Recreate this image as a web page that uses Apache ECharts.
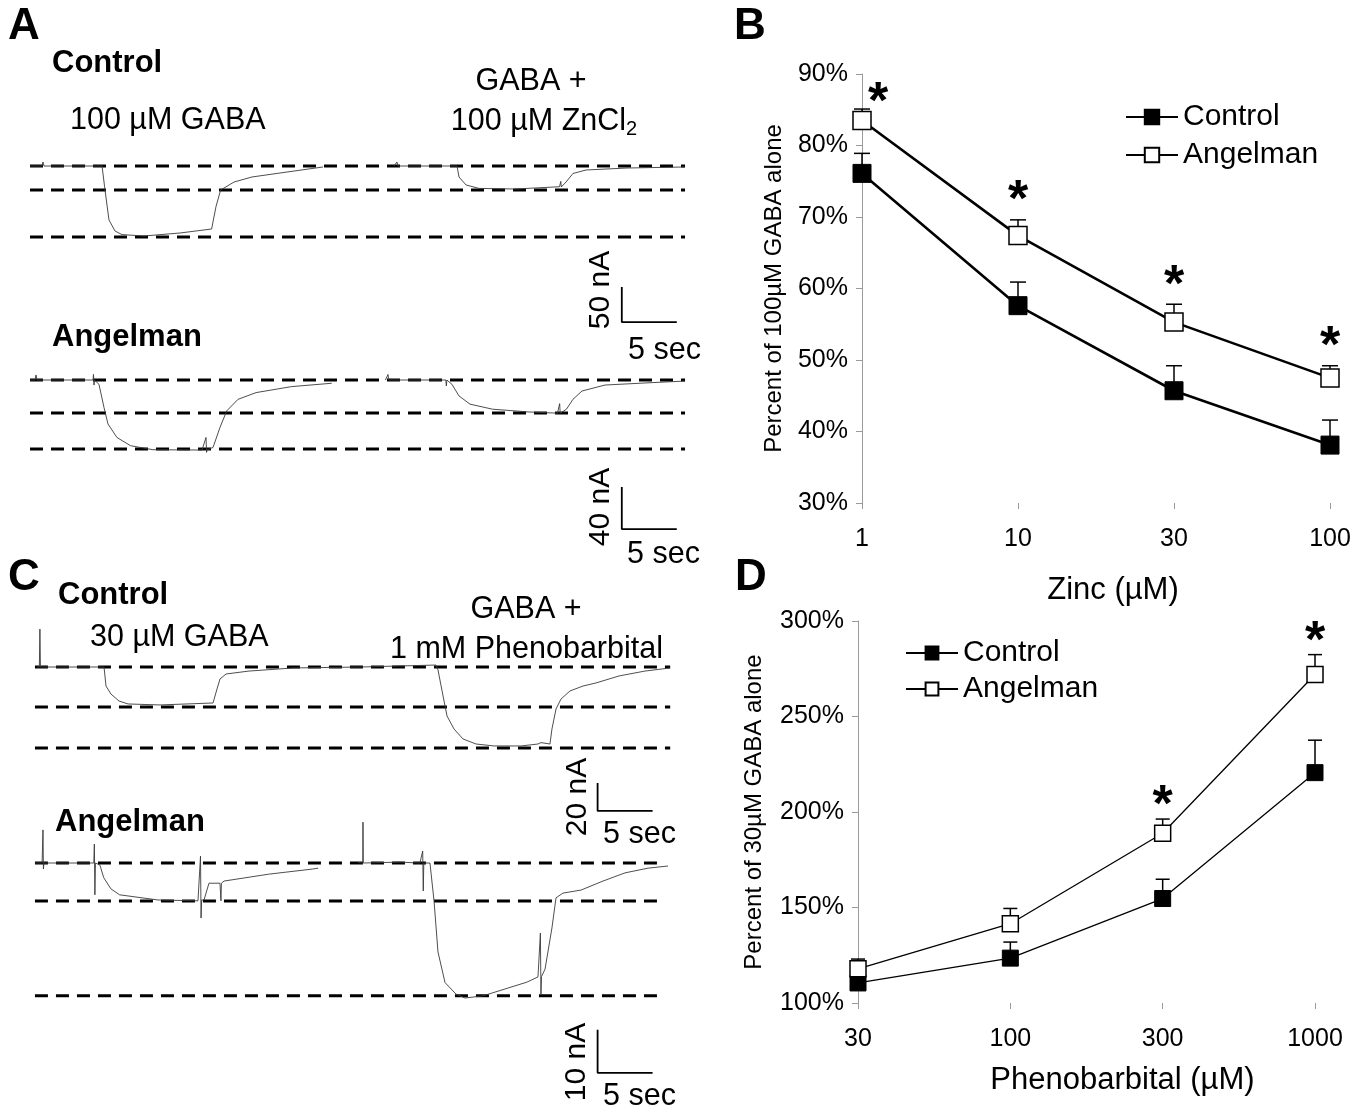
<!DOCTYPE html>
<html><head><meta charset="utf-8">
<script src="https://cdn.jsdelivr.net/npm/echarts@6/dist/echarts.min.js"></script>
<style>html,body{margin:0;padding:0;background:#fff}#c{width:1368px;height:1115px}</style>
</head><body><div id="c"></div>
<script>
// ---------------- DATA ----------------
// Panel B: Zinc inhibition (% of 100 uM GABA alone)
const zincCats = ['1', '10', '30', '100'];
const zincControl = [76.1, 57.6, 45.7, 38.1];
const zincControlSem = [2.8, 3.3, 3.5, 3.5];
const zincAngelman = [83.5, 67.4, 55.3, 47.5];
const zincAngelmanSem = [1.6, 2.2, 2.5, 1.7];
const zincSig = [true, true, true, true];
const zincTicks = [30, 90, 10];

// Panel D: Phenobarbital potentiation (% of 30 uM GABA alone)
const phenoCats = ['30', '100', '300', '1000'];
const phenoControl = [110.5, 123.5, 154.7, 220.6];
const phenoControlSem = [2.0, 8.4, 10.1, 17.0];
const phenoAngelman = [117.9, 141.5, 188.9, 272.0];
const phenoAngelmanSem = [5.1, 8.0, 7.4, 10.4];
const phenoSig = [false, false, true, true];
const phenoTicks = [100, 300, 50];

// Panel A traces: [time (s), current (nA)]
const aCtrlGaba = [[0,0],[1.09,0],[1.18,5.7],[1.27,0],[6.55,0],[6.78,-29.6],[7.18,-77.1],[7.73,-92.9],[8.36,-98],[10.36,-100],[13.64,-95.7],[16.51,-90],[16.91,-57.9],[17.33,-34.3],[18.55,-22.9],[20.18,-15.7],[23.36,-8.6],[26.64,-1.4]];
const aCtrlZn = [[33.09,0],[33.36,5.7],[33.45,0],[38.82,0],[39.0,-15.7],[39.64,-27.1],[40.82,-32],[44.09,-32.9],[48.14,-29.6],[48.2,-31],[48.25,-22],[48.3,-30],[48.73,-22.9],[49.36,-10.7],[50.55,-5.7],[54.27,-2.9],[59.55,-1.4]];
const aCtrlLevels = [0, -34.3, -101.4];
const aAngGaba = [[0,0],[0.45,0],[0.55,4.8],[0.64,0],[5.73,0],[5.77,5.3],[5.82,-4.8],[5.86,0],[6.27,-4.1],[6.73,-26.3],[7.09,-41.9],[7.91,-54.8],[9.15,-62.6],[11.18,-66.4],[15.64,-66.7],[16.0,-54.7],[16.05,-68.9],[16.1,-66.5],[16.64,-64.2],[17.27,-45.2],[17.88,-29.5],[18.91,-18.4],[20.55,-12],[23.77,-6.3],[27.43,-3.1]];
const aAngZn = [[32.31,0],[32.55,5.3],[32.6,0],[37.8,0],[37.85,-5.7],[37.9,0],[38.36,-4.1],[39.0,-15.2],[40.0,-23],[42.05,-27.8],[45.27,-30.4],[47.95,-31.6],[48.15,-22.5],[48.2,-31.6],[48.3,-30.5],[48.77,-27.8],[49.36,-18.4],[50.18,-10.5],[52.27,-4.8],[56.36,-2.6],[59.55,-1]];
const aAngLevels = [0, -31.4, -65.7];

// Panel C traces: [time (s), current (nA)]
const cCtrl = [[0.64,0],[0.85,0],[0.9,27.1],[0.95,0],[6.73,0],[6.91,-13.6],[7.36,-19.3],[8.09,-24.3],[8.91,-26.4],[11.82,-27.1],[16.64,-25.7],[17.0,-15.7],[17.27,-8.6],[17.82,-5],[19.91,-2.9],[23.91,-0.7],[30,0],[36.91,1.4],[37.09,-2.1],[37.55,-20.7],[37.91,-35],[38.55,-44.3],[39.36,-51.4],[40.55,-55],[42.18,-56.4],[44.64,-56.4],[46.18,-55],[46.45,-54],[47.27,-55],[47.45,-44.3],[47.82,-30],[48.27,-22.9],[49.09,-17.1],[50.27,-13.6],[51.45,-11.4],[53.55,-6.4],[55.91,-2.9],[58.18,-0.7]];
const cCtrlLevels = [0, -28.6, -57.8];
const cAngGaba = [[0.45,0],[1.1,0],[1.18,7.7],[1.22,-1.4],[1.27,0],[5.8,0],[5.85,4.4],[5.9,-7.4],[5.95,0],[6.36,-0.5],[6.7,-3.4],[7.35,-6],[8.15,-7.4],[11.64,-8.6],[15.27,-8.8],[15.5,1.6],[15.55,-12.8],[15.6,-8.6],[15.82,-8.6],[16.27,-4.7],[17.27,-4.7],[17.36,-8.8],[17.4,-4.7],[17.64,-4.2],[21.7,-2.6],[25.7,-1.4],[26.2,-1.2]];
const cAngPheno = [[29.8,0.1],[30.25,0],[30.27,9.5],[30.3,0],[33.6,0.2],[35.45,0],[35.7,2.8],[35.75,-6.5],[35.8,0],[36.36,0],[36.73,-8.8],[37.09,-20.7],[37.73,-27.8],[38.73,-30.5],[39.55,-31.4],[41.18,-30.9],[43.18,-29.3],[45.18,-27.7],[46.18,-26.5],[46.4,-16.3],[46.45,-30.5],[46.5,-26.4],[46.82,-24.7],[47.45,-15.1],[47.82,-8.1],[48.45,-7],[50.09,-6.3],[52.09,-4.2],[54.09,-2.3],[56.18,-1.2],[58,-0.7]];
const cAngLevels = [0, -8.84, -30.9];

// scale bars: [time (s), current (nA)]
const scaleBarTime = 5;
const scaleBarAmps = [50, 40, 20, 10];

// ---------------- LAYOUT ----------------
const FONT = "'Liberation Sans', Arial, Helvetica, sans-serif";
const TRACE_LEFT = 30, TRACE_W = 660, TRACE_TMAX = 60;
const panels = [
  {segs:[aCtrlGaba, aCtrlZn], levels:aCtrlLevels, top:140, height:200, y0:166, ppu:0.7,  dash:[0,59.55], bar:{t:53.8, base:-223}, amp:scaleBarAmps[0]},
  {segs:[aAngGaba, aAngZn],   levels:aAngLevels,  top:360, height:180, y0:380, ppu:1.05, dash:[0,59.55], bar:{t:53.8, base:-142}, amp:scaleBarAmps[1]},
  {segs:[cCtrl],              levels:cCtrlLevels, top:620, height:210, y0:667, ppu:1.4,  dash:[0.45,58.2], bar:{t:51.6, base:-102.8}, amp:scaleBarAmps[2]},
  {segs:[cAngGaba, cAngPheno],levels:cAngLevels,  top:820, height:265, y0:863, ppu:4.3,  dash:[0.45,57.7], bar:{t:51.6, base:-48.8}, amp:scaleBarAmps[3]}
];

const grids = [], xAxes = [], yAxes = [], series = [];
panels.forEach((p, i) => {
  grids.push({left: TRACE_LEFT, width: TRACE_W, top: p.top, height: p.height});
  xAxes.push({type:'value', gridIndex:i, min:0, max:TRACE_TMAX, show:false});
  yAxes.push({type:'value', gridIndex:i, show:false,
    max: (p.y0 - p.top) / p.ppu, min: -(p.top + p.height - p.y0) / p.ppu});
  p.segs.forEach(seg => series.push({type:'line', xAxisIndex:i, yAxisIndex:i, data:seg, showSymbol:false,
    symbol:'none', silent:true, z:3, lineStyle:{color:'#3a3a3a', width:0.9}}));
  p.levels.forEach(lv => series.push({type:'line', xAxisIndex:i, yAxisIndex:i, symbol:'none', silent:true, z:2,
    data:[[p.dash[0], lv], [p.dash[1], lv]], lineStyle:{color:'#000', width:3, type:[13, 8]}}));
  series.push({type:'line', xAxisIndex:i, yAxisIndex:i, symbol:'none', silent:true, z:2,
    data:[[p.bar.t, p.bar.base + p.amp], [p.bar.t, p.bar.base], [p.bar.t + scaleBarTime, p.bar.base]],
    lineStyle:{color:'#000', width:1.8}});
});

// chart grids
grids.push({left: 862, right: 38, top: 74, height: 429});   // B (index 4)
grids.push({left: 858, right: 53, top: 621, height: 382});  // D (index 5)

function valueAxis(gi, ticks, name, gap) {
  return {type:'value', gridIndex:gi, min:ticks[0], max:ticks[1], interval:ticks[2],
    name:name, nameLocation:'middle', nameGap:gap, nameRotate:90,
    nameTextStyle:{fontFamily:FONT, fontSize:24, color:'#000'},
    axisLine:{show:true, lineStyle:{color:'#9a9a9a', width:1}},
    axisTick:{show:true, length:6, lineStyle:{color:'#9a9a9a'}},
    axisLabel:{formatter:'{value}%', fontFamily:FONT, fontSize:25, color:'#000', margin:14},
    splitLine:{show:false}};
}
function catAxis(gi, cats, name, gap, pad) {
  return {type:'category', gridIndex:gi, data:cats, boundaryGap:false,
    name:name, nameLocation:'middle', nameGap:gap,
    nameTextStyle:{fontFamily:FONT, fontSize:31, color:'#000', padding:pad},
    axisLine:{show:false}, axisTick:{show:true, alignWithLabel:true, length:6, lineStyle:{color:'#9a9a9a'}},
    axisLabel:{fontFamily:FONT, fontSize:25, color:'#000', margin:24}, splitLine:{show:false}};
}
xAxes.push(catAxis(4, zincCats, 'Zinc (\u00B5M)', 72, [0,0,0,34]));
yAxes.push(valueAxis(4, zincTicks, 'Percent of 100\u00B5M GABA alone', 76));
xAxes.push(catAxis(5, phenoCats, 'Phenobarbital (\u00B5M)', 62, [0,0,0,72]));
yAxes.push(valueAxis(5, phenoTicks, 'Percent of 30\u00B5M GABA alone', 92));

function errRender(cw, lw) {
  return function (params, api) {
    const x = api.value(0), m = api.value(1), e = api.value(2);
    const p0 = api.coord([x, m]), p1 = api.coord([x, m + e]);
    const st = {stroke:'#000', lineWidth:lw};
    return {type:'group', children:[
      {type:'line', shape:{x1:p0[0], y1:p0[1], x2:p1[0], y2:p1[1]}, style:st},
      {type:'line', shape:{x1:p1[0]-cw, y1:p1[1], x2:p1[0]+cw, y2:p1[1]}, style:st}
    ]};
  };
}

function addChart(gi, cats, ctrl, ctrlSem, ang, angSem, sig, suffix, lw, ms, errW, starOff, firstStarOff) {
  const idx = gi;
  series.push({type:'custom', name:'errC'+gi, xAxisIndex:idx, yAxisIndex:idx, z:1, silent:true,
    renderItem:errRender(errW, 1.5), data:cats.map((c,i)=>[i, ctrl[i], ctrlSem[i]])});
  series.push({type:'custom', name:'errA'+gi, xAxisIndex:idx, yAxisIndex:idx, z:1, silent:true,
    renderItem:errRender(errW, 1.5), data:cats.map((c,i)=>[i, ang[i], angSem[i]])});
  series.push({type:'line', name:'Control'+suffix, xAxisIndex:idx, yAxisIndex:idx, data:ctrl, z:3,
    symbol:'rect', symbolSize:ms, showAllSymbol:true, silent:true,
    itemStyle:{color:'#000', borderColor:'#000', borderWidth:1}, lineStyle:{color:'#000', width:lw}});
  series.push({type:'line', name:'Angelman'+suffix, xAxisIndex:idx, yAxisIndex:idx, data:ang, z:3,
    symbol:'rect', symbolSize:ms, showAllSymbol:true, silent:true,
    itemStyle:{color:'#fff', borderColor:'#000', borderWidth:1.5}, lineStyle:{color:'#000', width:lw}});
  const stars = [];
  sig.forEach((s, i) => { if (s) {
    const item = {value:[i, ang[i] + angSem[i]]};
    if (i === 0 && firstStarOff) item.label = {offset:firstStarOff};
    stars.push(item);
  }});
  series.push({type:'scatter', name:'sig'+gi, xAxisIndex:idx, yAxisIndex:idx, data:stars, symbolSize:2, silent:true,
    itemStyle:{color:'rgba(255,255,255,0)'}, z:4,
    label:{show:true, formatter:'*', position:'inside', offset:starOff, fontFamily:FONT, fontWeight:'bold',
      fontSize:52, color:'#000', textBorderWidth:0, opacity:1}});
}
addChart(4, zincCats, zincControl, zincControlSem, zincAngelman, zincAngelmanSem, zincSig, '', 2.6, 18, 8, [0,-18], [16,-5]);
addChart(5, phenoCats, phenoControl, phenoControlSem, phenoAngelman, phenoAngelmanSem, phenoSig, ' ', 1.3, 16, 7, [0,-12], null);

const legendText = {fontFamily:FONT, fontSize:30, color:'#000'};
const legends = [
  {data:['Control','Angelman'], orient:'vertical', left:1125, top:102, itemWidth:52, itemHeight:18, itemGap:8,
   selectedMode:false, textStyle:legendText, padding:0},
  {data:['Control ','Angelman '], orient:'vertical', left:905, top:638, itemWidth:52, itemHeight:16, itemGap:6,
   selectedMode:false, textStyle:legendText, padding:0, formatter:n => n.trim()}
];

// text annotations
function T(text, x, y, size, opts) {
  opts = opts || {};
  return {type:'text', x:x, y:y, rotation:opts.rot || 0, silent:true, z:10,
    style:{text:text, fontFamily:FONT, fontSize:size, fontWeight:opts.bold ? 'bold' : 'normal', fill:'#000',
      textAlign:opts.align || 'left', textVerticalAlign:'middle', align:opts.align || 'left', verticalAlign:'middle',
      rich:opts.rich}};
}
const sub = {s:{fontFamily:FONT, fontSize:20, padding:[14,0,0,0]}};
const graphics = [
  T('A', 8, 27, 44, {bold:true}),
  T('B', 734, 27, 44, {bold:true}),
  T('C', 8, 578, 44, {bold:true}),
  T('D', 735, 578, 44, {bold:true}),
  T('Control', 52, 63, 31, {bold:true}),
  T('100 \u00B5M GABA', 70, 121, 30.5),
  T('GABA +', 531, 82, 30.5, {align:'center'}),
  T('100 \u00B5M ZnCl{s|2}', 544, 122, 30.5, {align:'center', rich:sub}),
  T('Angelman', 52, 337, 31, {bold:true}),
  T('50 nA', 601, 290, 30, {align:'center', rot:Math.PI/2}),
  T('5 sec', 628, 351, 30.5),
  T('40 nA', 601, 507, 30, {align:'center', rot:Math.PI/2}),
  T('5 sec', 627, 555, 30.5),
  T('Control', 58, 595, 31, {bold:true}),
  T('30 \u00B5M GABA', 90, 638, 30.5),
  T('GABA +', 526, 610, 30.5, {align:'center'}),
  T('1 mM Phenobarbital', 390, 650, 30.5),
  T('20 nA', 578, 797, 30, {align:'center', rot:Math.PI/2}),
  T('5 sec', 603, 835, 30.5),
  T('Angelman', 55, 822, 31, {bold:true}),
  T('10 nA', 577, 1062, 30, {align:'center', rot:Math.PI/2}),
  T('5 sec', 603, 1097, 30.5)
];

const chart = echarts.init(document.getElementById('c'), null, {renderer:'canvas'});
chart.setOption({
  animation:false, backgroundColor:'#fff',
  grid:grids, xAxis:xAxes, yAxis:yAxes, series:series, legend:legends,
  graphic:{elements:graphics}
});
</script></body></html>
